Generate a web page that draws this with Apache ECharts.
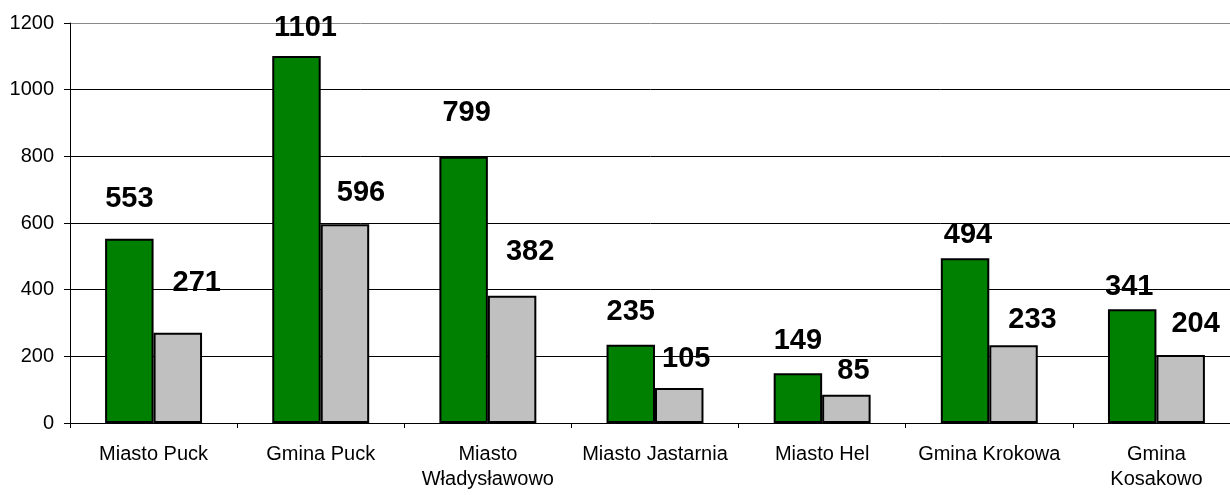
<!DOCTYPE html>
<html>
<head>
<meta charset="utf-8">
<script src="https://cdn.jsdelivr.net/npm/echarts@6/dist/echarts.min.js"></script>
<style>
html,body{margin:0;padding:0;background:#fff;}
#chart{width:1230px;height:495px;}
</style>
</head>
<body>
<div id="chart"></div>
<script>
const categories = ['Miasto Puck', 'Gmina Puck', 'Miasto Władysławowo', 'Miasto Jastarnia', 'Miasto Hel', 'Gmina Krokowa', 'Gmina Kosakowo'];
const greenValues = [553, 1101, 799, 235, 149, 494, 341];
const grayValues = [271, 596, 382, 105, 85, 233, 204];
const yTicks = [0, 200, 400, 600, 800, 1000, 1200];
const twoLineCategories = ['Miasto Władysławowo', 'Gmina Kosakowo'];

// label nudges (gap above bar top to label centre, horizontal shift), in px
const greenLabelNudge = [[40, 0], [28, 9], [44, 3], [33, 0], [32, 0], [23, 3], [22, -3]];
const grayLabelNudge = [[50, 19], [31, 16], [44, 18], [29, 7], [24, 7], [25, 19], [31, 15]];

function makeData(values, nudges) {
  return values.map((v, i) => ({
    value: v,
    label: {
      position: ['50%', -nudges[i][0]],
      offset: [nudges[i][1], 0]
    }
  }));
}

const labelStyle = {
  show: true,
  align: 'center',
  verticalAlign: 'middle',
  fontFamily: 'Liberation Sans, Arial, sans-serif',
  fontWeight: 'bold',
  fontSize: 29,
  color: '#000'
};

const chart = echarts.init(document.getElementById('chart'), null, {renderer: 'canvas'});
chart.setOption({
  animation: false,
  backgroundColor: '#fff',
  grid: {left: 70, top: 23, width: 1170, height: 400, containLabel: false, outerBoundsMode: 'none'},
  xAxis: {
    type: 'category',
    data: categories,
    boundaryGap: true,
    axisLine: {show: true, lineStyle: {color: '#000', width: 1}},
    axisTick: {show: true, length: 5, interval: 0, lineStyle: {color: '#000'}},
    axisLabel: {
      interval: 0,
      margin: 19,
      fontFamily: 'Liberation Sans, Arial, sans-serif',
      fontSize: 20,
      lineHeight: 25,
      color: '#000',
      formatter: function (v) {
        return twoLineCategories.indexOf(v) >= 0 ? v.replace(' ', '\n') : v;
      }
    }
  },
  yAxis: {
    type: 'value',
    min: yTicks[0],
    max: yTicks[yTicks.length - 1],
    interval: yTicks[1] - yTicks[0],
    axisLine: {show: true, lineStyle: {color: '#000', width: 1}},
    axisTick: {show: true, length: 6, lineStyle: {color: '#000'}},
    axisLabel: {
      margin: 16,
      fontFamily: 'Liberation Sans, Arial, sans-serif',
      fontSize: 20,
      color: '#000',
      formatter: function (v) { return String(v); }
    },
    splitLine: {show: true, lineStyle: {color: ['#000', '#000', '#000', '#000', '#000', '#000', '#888'], width: 1}}
  },
  series: [
    {
      name: 'Seria 1',
      type: 'bar',
      data: makeData(greenValues, greenLabelNudge),
      barGap: '0%',
      barCategoryGap: '42%',
      itemStyle: {color: '#008000', borderColor: '#000', borderWidth: 2},
      label: labelStyle
    },
    {
      name: 'Seria 2',
      type: 'bar',
      data: makeData(grayValues, grayLabelNudge),
      barGap: '0%',
      barCategoryGap: '42%',
      itemStyle: {color: '#C0C0C0', borderColor: '#000', borderWidth: 2},
      label: labelStyle
    }
  ]
});
</script>
</body>
</html>
